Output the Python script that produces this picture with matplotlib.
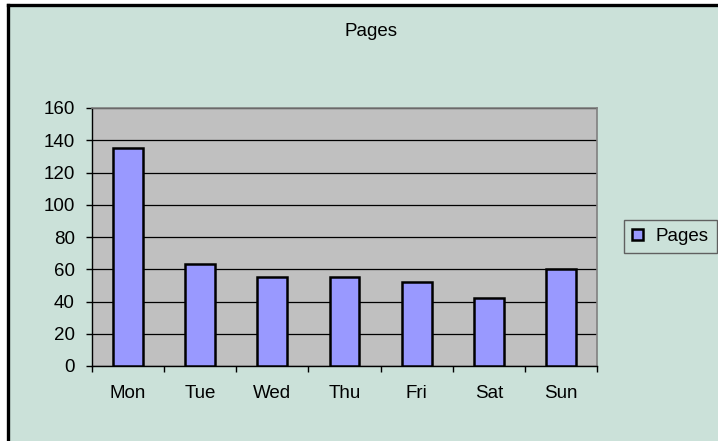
import numpy as np
import matplotlib.pyplot as plt
from matplotlib.lines import Line2D

days = ['Mon', 'Tue', 'Wed', 'Thu', 'Fri', 'Sat', 'Sun']
pages = [135, 63, 55, 55, 52, 42, 60]
y_ticks = [0, 20, 40, 60, 80, 100, 120, 140, 160]

plt.rcParams['font.family'] = ['Liberation Sans', 'DejaVu Sans']

bg = '#cbe1d9'
fig = plt.figure(figsize=(7.18, 4.41), dpi=100)
fig.patch.set_facecolor('white')

# chart area background with black frame on left/top
fig.patches.append(plt.Rectangle((8/718, -0.1), 1.0, 1 - 5/441 + 0.1, transform=fig.transFigure,
                                 facecolor=bg, edgecolor='none', zorder=-2))
fig.add_artist(Line2D([8/718, 8/718], [0, 1 - 5/441], transform=fig.transFigure, color='black', lw=2.4))
fig.add_artist(Line2D([8/718, 1.0], [1 - 5/441, 1 - 5/441], transform=fig.transFigure, color='black', lw=2.4))

ax = fig.add_axes([92/718, 1 - 366/441, (597 - 92)/718, (366 - 108)/441])
ax.set_facecolor('#c0c0c0')

x = np.arange(len(days))
ax.bar(x, pages, width=0.415, color='#9999ff', edgecolor='black', linewidth=1.8, zorder=3, label='Pages')

ax.set_ylim(0, 160)
ax.set_xlim(-0.5, len(days) - 0.5)
ax.set_yticks(y_ticks)
ax.yaxis.grid(True, color='black', linewidth=0.9, zorder=1)
ax.set_axisbelow(True)

ax.set_xticks(x)
ax.set_xticklabels(days)
ax.set_xticks(np.arange(-0.5, len(days), 1), minor=True)
ax.tick_params(axis='x', which='major', length=0, pad=14, labelsize=13.5)
ax.tick_params(axis='x', which='minor', length=4.5, width=1, color='black', direction='out')
ax.tick_params(axis='y', length=4.5, width=1, direction='out', labelsize=13.5, pad=8)

for s in ['top', 'right']:
    ax.spines[s].set_color('#808080')
    ax.spines[s].set_linewidth(1.2)
for s in ['left', 'bottom']:
    ax.spines[s].set_color('black')
    ax.spines[s].set_linewidth(1.0)

fig.text(371/718, 1 - 32/441, 'Pages', ha='center', va='center', fontsize=13.5)

leg = fig.legend(loc='center left', bbox_to_anchor=(624/718, 1 - 236.5/441), frameon=True,
                 fancybox=False, edgecolor='#606060', facecolor=bg, fontsize=13.5,
                 handlelength=0.55, handleheight=0.55, handletextpad=0.7, borderpad=0.45,
                 borderaxespad=0)
leg.get_frame().set_linewidth(1.0)
leg.get_frame().set_alpha(None)

fig.savefig('out.png', dpi=100, facecolor=fig.get_facecolor())
